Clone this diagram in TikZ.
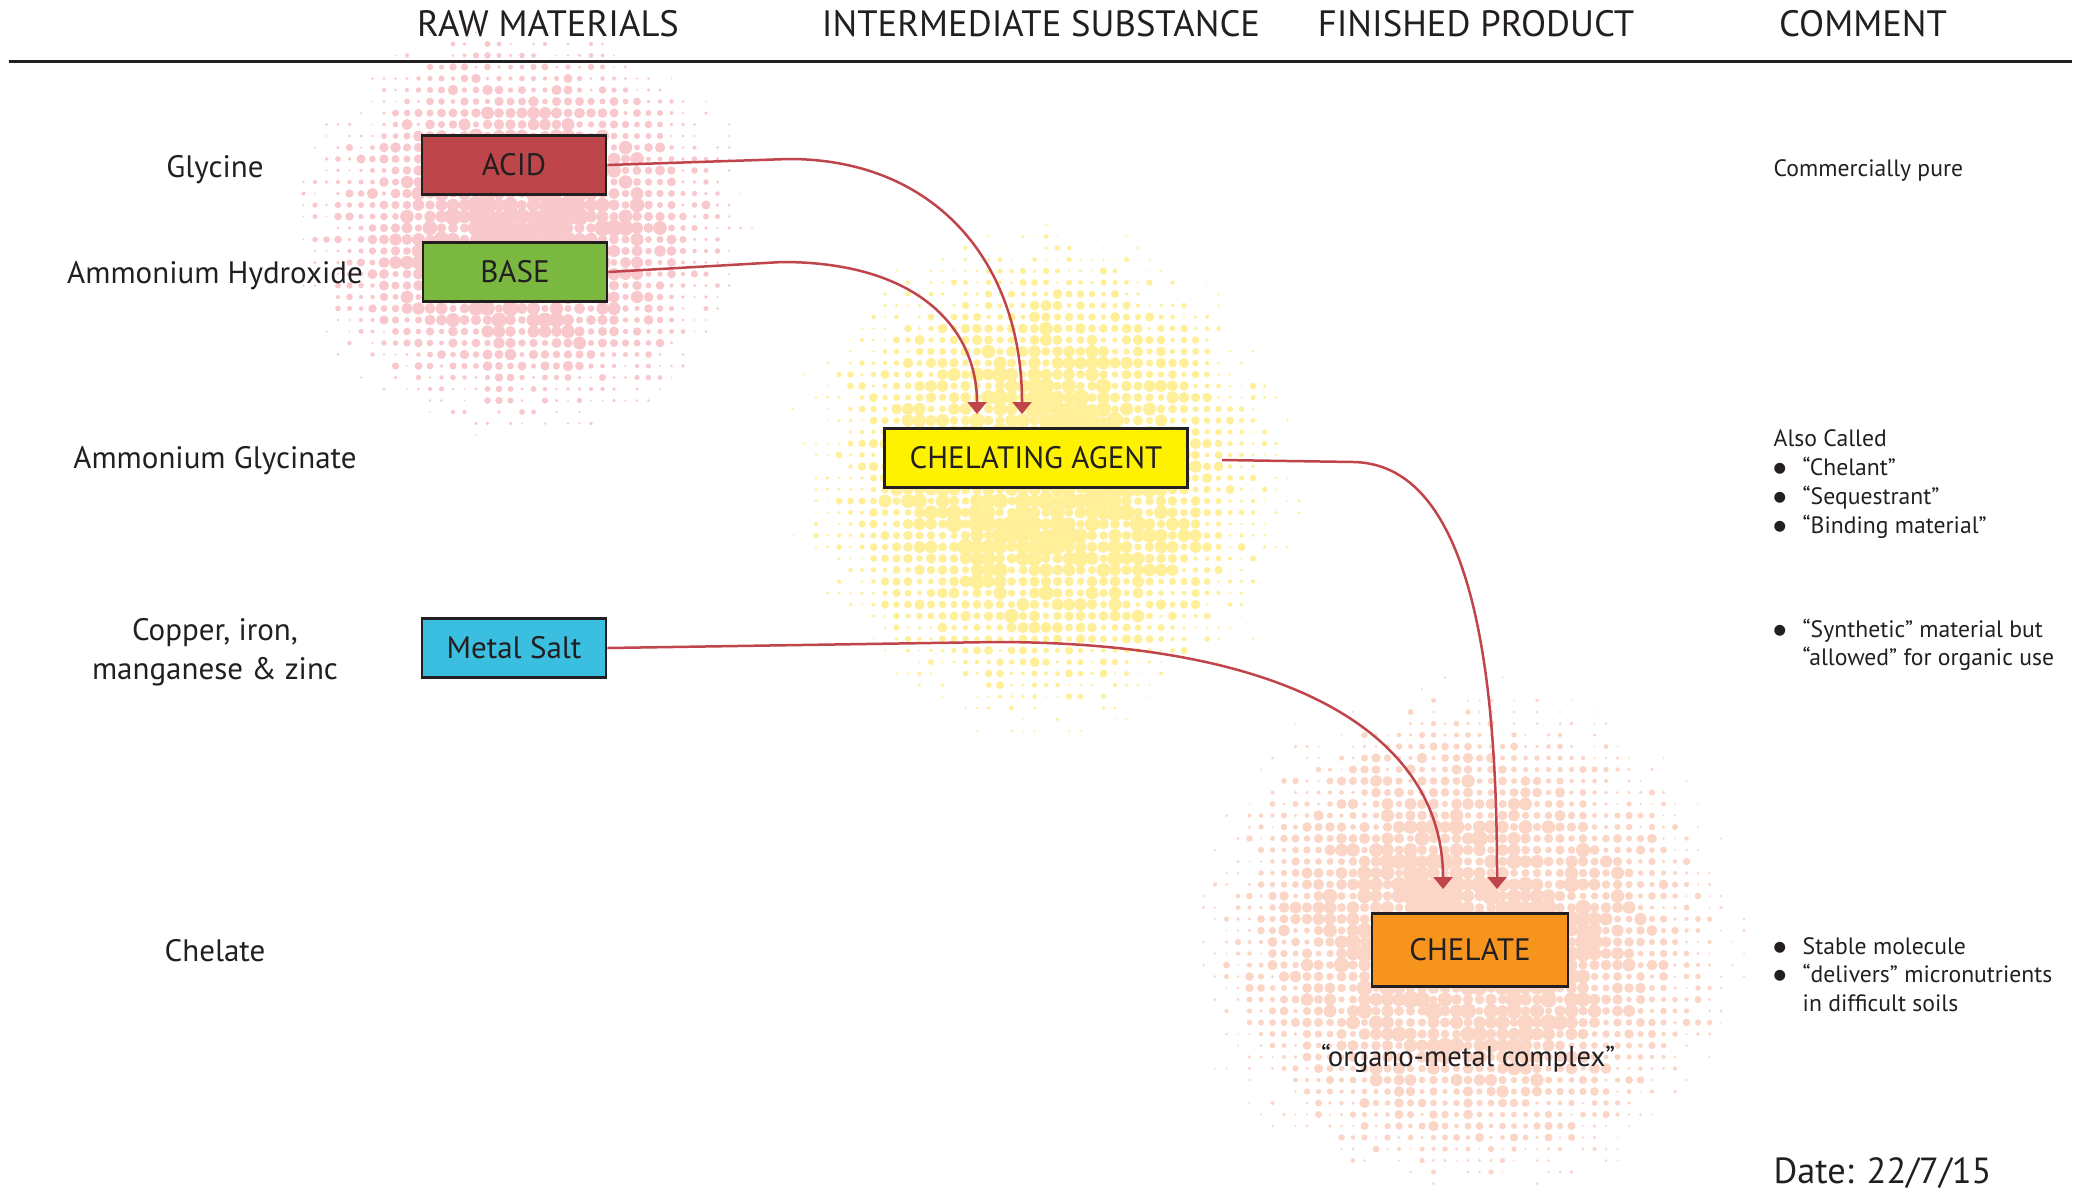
\documentclass[tikz,border=0pt]{standalone}
\usepackage{fontspec}
\setmainfont{PT Sans}
\newfontfamily\symfont{DejaVu Sans}
\usetikzlibrary{arrows.meta,calc}

\definecolor{ink}{HTML}{231F20}
\definecolor{wire}{HTML}{C0454B}
\definecolor{acidc}{HTML}{BE464B}
\definecolor{basec}{HTML}{7AB840}
\definecolor{agentc}{HTML}{FFF200}
\definecolor{saltc}{HTML}{3BBFE0}
\definecolor{chelc}{HTML}{F7941D}
\definecolor{pinkdot}{HTML}{F8C8CC}
\definecolor{yeldot}{HTML}{FFEF98}
\definecolor{peachdot}{HTML}{FBD5C6}

\newcommand\halftone[6]{%
  \foreach \i in {-#6,...,#6}{%
    \foreach \j in {-#6,...,#6}{%
      \pgfmathsetmacro\dd{sqrt((\i*11.5/#3)^2+(\j*11.5/#4)^2)*(0.88+0.24*rnd)}%
      \pgfmathsetmacro\rr{0.3*8.6*max(1-\dd*\dd,0)*(0.5+0.65*rnd)}%
      \ifdim\rr pt>0.25pt
        \fill[#5] ({#1+\i*11.5},{#2+\j*11.5}) circle[radius=\rr pt];%
      \fi
    }%
  }%
}
\newcommand\bul{\makebox[8.7pt][l]{\raisebox{0.9pt}{\symfont\fontsize{4.3}{5}\selectfont ●}}}

\begin{document}
\begin{tikzpicture}[x=0.3pt,y=-0.3pt,
  head/.style={font=\fontsize{11}{13}\selectfont, text=ink, anchor=base, inner sep=0},
  side/.style={font=\fontsize{9.3}{11.7}\selectfont, text=ink, anchor=base, inner sep=0, align=center},
  note/.style={font=\fontsize{7.1}{8.7}\selectfont, text=ink, anchor=base west, inner sep=0},
  box/.style={draw=ink, line width=0.8pt, inner sep=0, minimum height=17.7pt, text=ink,
              font=\fontsize{9.3}{11}\selectfont},
  conn/.style={draw=wire, line width=0.75pt, -{Triangle[width=5.7pt,length=3.6pt]}}]
\useasboundingbox (0,0) rectangle (2081,1191);
\pgfmathsetseed{7}

% halftone clouds
\halftone{522}{228}{225}{205}{pinkdot}{20}
\halftone{1046}{478}{250}{248}{yeldot}{22}
\halftone{1468}{942}{272}{255}{peachdot}{24}

% header
\node[head] (h1) at (548,36) {RAW MATERIALS};
\node[head] (h2) at (1041,36) {INTERMEDIATE SUBSTANCE};
\node[head] (h3) at (1476,36) {FINISHED PRODUCT};
\node[head] (h4) at (1863,36) {COMMENT};
\draw[ink, line width=0.9pt] (9,61) -- (2072,61);

% side labels
\node[side] (l1) at (215,177) {Glycine};
\node[side] (l2) at (215,283) {Ammonium Hydroxide};
\node[side] (l3) at (215,468) {Ammonium Glycinate};
\node[side] (l4) at (215,679) {Copper, iron,\\manganese \& zinc};
\node[side] (l5) at (215,961) {Chelate};

% connector end points
\coordinate (a1) at (1022,414);
\coordinate (a2) at (977,414);
\coordinate (a3) at (1497,889);
\coordinate (a4) at (1443,889);
\coordinate (s3) at (1222,460);

% boxes
\node[box, fill=acidc, minimum width=55.2pt] (acid) at (514,165) {ACID};
\node[box, fill=basec, minimum width=55.2pt] (base) at (515,272) {BASE};
\node[box, fill=agentc, minimum width=90.9pt] (agent) at (1036,458) {CHELATING AGENT};
\node[box, fill=saltc, minimum width=55.2pt] (salt) at (514,648) {Metal Salt};
\node[box, fill=chelc, minimum width=58.8pt, minimum height=21.9pt] (chel) at (1470,950) {CHELATE};

\draw[conn] (acid.east) -- (789,159) .. controls (935,159) and (1022,262) .. (a1);
\draw[conn] (base.east) -- (782,262) .. controls (920,262) and (977,330) .. (a2);
\draw[conn] (s3) -- (1354,462) .. controls (1480,465) and (1497,700) .. (a3);
\draw[conn] (salt.east) -- (995,642) .. controls (1300,642) and (1443,740) .. (a4);

\node[font=\fontsize{8.6}{10}\selectfont, text=ink, anchor=base, inner sep=0] (oc) at (1468,1066) {“organo-metal complex”};

% comments
\node[note] (c1) at (1773,176) {Commercially pure};
\node[note] (c2) at (1773,446) {Also Called};
\node[note] (c3) at (1773,475) {\bul“Chelant”};
\node[note] (c4) at (1773,504) {\bul“Sequestrant”};
\node[note] (c5) at (1773,533) {\bul“Binding material”};
\node[note] (c6) at (1773,637) {\bul“Synthetic” material but};
\node[note] (c7) at (1802,665) {“allowed” for organic use};
\node[note] (c8) at (1773,954) {\bul Stable molecule};
\node[note] (c9) at (1773,982) {\bul“delivers” micronutrients};
\node[note] (c10) at (1802,1011) {in difficult soils};
\node[font=\fontsize{10.9}{13}\selectfont, text=ink, anchor=base west, inner sep=0] (date) at (1773,1183) {Date: 22/7/15};
\end{tikzpicture}
\end{document}
